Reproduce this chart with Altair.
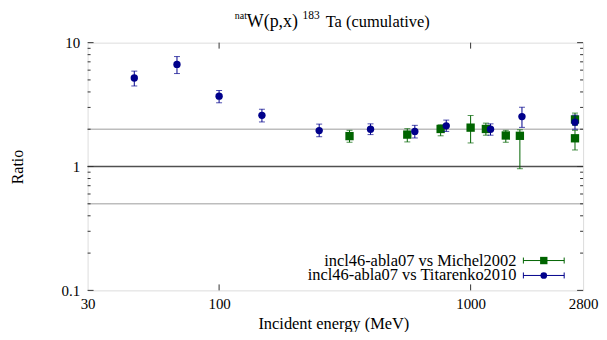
import altair as alt
import pandas as pd

# ---- data ----
tit_E = [46, 68, 100, 148, 250, 400, 600, 800, 1200, 1600, 2600]
tit_R = [5.18, 6.67, 3.70, 2.59, 1.95, 2.00, 1.92, 2.13, 2.00, 2.53, 2.28]
tit_lo = [4.47, 5.63, 3.27, 2.29, 1.74, 1.81, 1.70, 1.92, 1.79, 2.07, 2.00]
tit_hi = [5.89, 7.72, 4.11, 2.90, 2.20, 2.21, 2.15, 2.37, 2.21, 3.01, 2.60]

mic_E = [330, 560, 760, 1000, 1150, 1380, 1570, 2600, 2600]
mic_R = [1.76, 1.81, 2.01, 2.06, 2.01, 1.78, 1.77, 2.40, 1.69]
mic_lo = [1.57, 1.58, 1.77, 1.55, 1.79, 1.57, 0.96, 2.15, 1.36]
mic_hi = [1.96, 2.02, 2.17, 2.58, 2.24, 1.96, 1.98, 2.70, 1.96]

ref_light = [2.0, 0.5]
ref_dark = [1.0]

x_labels = [30, 100, 1000, 2800]
y_labels = [0.1, 1, 10]
x_ticks = [100, 1000]
y_major = [0.1, 1, 10]
y_minor = [0.2, 0.3, 0.4, 0.5, 0.6, 0.7, 0.8, 0.9, 2, 3, 4, 5, 6, 7, 8, 9]

legend_names = ["incl46-abla07 vs Michel2002", "incl46-abla07 vs Titarenko2010"]
title_pieces = ["nat", "W(p,x)", "183", "Ta (cumulative)"]

GREEN = "#006400"
BLUE = "#00008b"
FONT = "Liberation Serif"
W, H = 498, 249

tit = pd.DataFrame({"E": tit_E, "R": tit_R, "lo": tit_lo, "hi": tit_hi})
mic = pd.DataFrame({"E": mic_E, "R": mic_R, "lo": mic_lo, "hi": mic_hi})

xs = alt.Scale(type="log", domain=[30, 2800], nice=False)
ys = alt.Scale(type="log", domain=[0.1, 10], nice=False)

x_axis = alt.Axis(values=x_labels, format="d", labelFlush=False, ticks=False, domain=False,
                  grid=False, labelFont=FONT, labelFontSize=15, labelColor="#000",
                  labelPadding=6, title="Incident energy (MeV)", titleFont=FONT,
                  titleFontSize=16.5, titleFontWeight="normal", titleColor="#000",
                  titleX=247, titleY=33, titleBaseline="middle", titleAlign="center")
y_axis = alt.Axis(values=y_labels, format="~g", ticks=False, domain=False, grid=False,
                  labelFont=FONT, labelFontSize=15, labelColor="#000", labelPadding=8,
                  labelFlush=False, title="Ratio", titleFont=FONT, titleFontSize=16,
                  titleFontWeight="normal", titleColor="#000", titleX=-70, titleY=H / 2,
                  titleAngle=270, titleBaseline="middle", titleAlign="center")

# reference lines
light = alt.Chart(pd.DataFrame({"v": ref_light})).mark_rule(color="#bdbdbd", strokeWidth=1.5).encode(
    y=alt.Y("v:Q", scale=ys, axis=y_axis))
dark = alt.Chart(pd.DataFrame({"v": ref_dark})).mark_rule(color="#505050", strokeWidth=1.5).encode(
    y=alt.Y("v:Q", scale=ys))

# hidden x-axis carrier
xcarrier = alt.Chart(pd.DataFrame({"v": x_labels})).mark_point(opacity=0).encode(
    x=alt.X("v:Q", scale=xs, axis=x_axis))

def series(df, color, shape, size):
    bars = alt.Chart(df).mark_rule(color=color, strokeWidth=1).encode(
        x=alt.X("E:Q", scale=xs), y=alt.Y("lo:Q", scale=ys), y2="hi:Q")
    cap_lo = alt.Chart(df).mark_tick(orient="horizontal", size=6, thickness=1, color=color).encode(
        x=alt.X("E:Q", scale=xs), y=alt.Y("lo:Q", scale=ys))
    cap_hi = alt.Chart(df).mark_tick(orient="horizontal", size=6, thickness=1, color=color).encode(
        x=alt.X("E:Q", scale=xs), y=alt.Y("hi:Q", scale=ys))
    pts = alt.Chart(df).mark_point(shape=shape, filled=True, size=size, color=color, opacity=1).encode(
        x=alt.X("E:Q", scale=xs), y=alt.Y("R:Q", scale=ys))
    return [bars, cap_lo, cap_hi, pts]

# inward ticks
def yticks(vals, length):
    d = pd.DataFrame({"v": vals})
    left = alt.Chart(d).mark_rule(color="#333", strokeWidth=1).encode(
        y=alt.Y("v:Q", scale=ys), x=alt.value(0), x2=alt.value(length))
    right = alt.Chart(d).mark_rule(color="#333", strokeWidth=1).encode(
        y=alt.Y("v:Q", scale=ys), x=alt.value(W), x2=alt.value(W - length))
    return [left, right]

dx = pd.DataFrame({"v": x_ticks})
xt_bottom = alt.Chart(dx).mark_rule(color="#333", strokeWidth=1).encode(
    x=alt.X("v:Q", scale=xs), y=alt.value(H), y2=alt.value(H - 6))
xt_top = alt.Chart(dx).mark_rule(color="#333", strokeWidth=1).encode(
    x=alt.X("v:Q", scale=xs), y=alt.value(0), y2=alt.value(6))

one = pd.DataFrame({"a": [0]})

def txt(s, x, y, size, align="left", baseline="alphabetic"):
    return alt.Chart(pd.DataFrame({"t": [s]})).mark_text(
        font=FONT, fontSize=size, align=align, baseline=baseline, color="#000").encode(
        text="t:N", x=alt.value(x), y=alt.value(y))

title_parts = [
    txt(title_pieces[0], 148, -24, 10),
    txt(title_pieces[1], 160, -16, 18),
    txt(title_pieces[2], 216, -24, 11.5),
    txt(title_pieces[3], 239.3, -16, 16.5),
]

# legend
leg = []
for i, (name, color, shape) in enumerate(zip(legend_names, [GREEN, BLUE], ["square", "circle"])):
    yy = 219 + 15 * i
    leg.append(txt(name, 431, yy, 16.5, align="right", baseline="middle"))
    leg.append(alt.Chart(one).mark_rule(color=color, strokeWidth=1).encode(
        x=alt.value(438), x2=alt.value(479), y=alt.value(yy)))
    for cx in (438, 479):
        leg.append(alt.Chart(one).mark_rule(color=color, strokeWidth=1).encode(
            x=alt.value(cx), y=alt.value(yy - 3), y2=alt.value(yy + 3)))
    leg.append(alt.Chart(one).mark_point(shape=shape, filled=True, size=55 if shape == "square" else 45,
                                          color=color, opacity=1).encode(
        x=alt.value(458.5), y=alt.value(yy)))

layers = [light, dark, xcarrier]
layers += series(mic, GREEN, "square", 70)
layers += series(tit, BLUE, "circle", 55)
layers += yticks(y_major, 6) + yticks(y_minor, 3) + [xt_bottom, xt_top]
layers += title_parts + leg

chart = alt.layer(*layers).properties(
    width=W, height=H,
    autosize=alt.AutoSizeParams(type="none"),
    padding={"left": 80, "top": 34, "right": 16, "bottom": 41},
).configure_view(stroke="#333", strokeWidth=1).configure(background="white")

chart.save("out.html", embed_options={"renderer": "svg", "actions": False})
